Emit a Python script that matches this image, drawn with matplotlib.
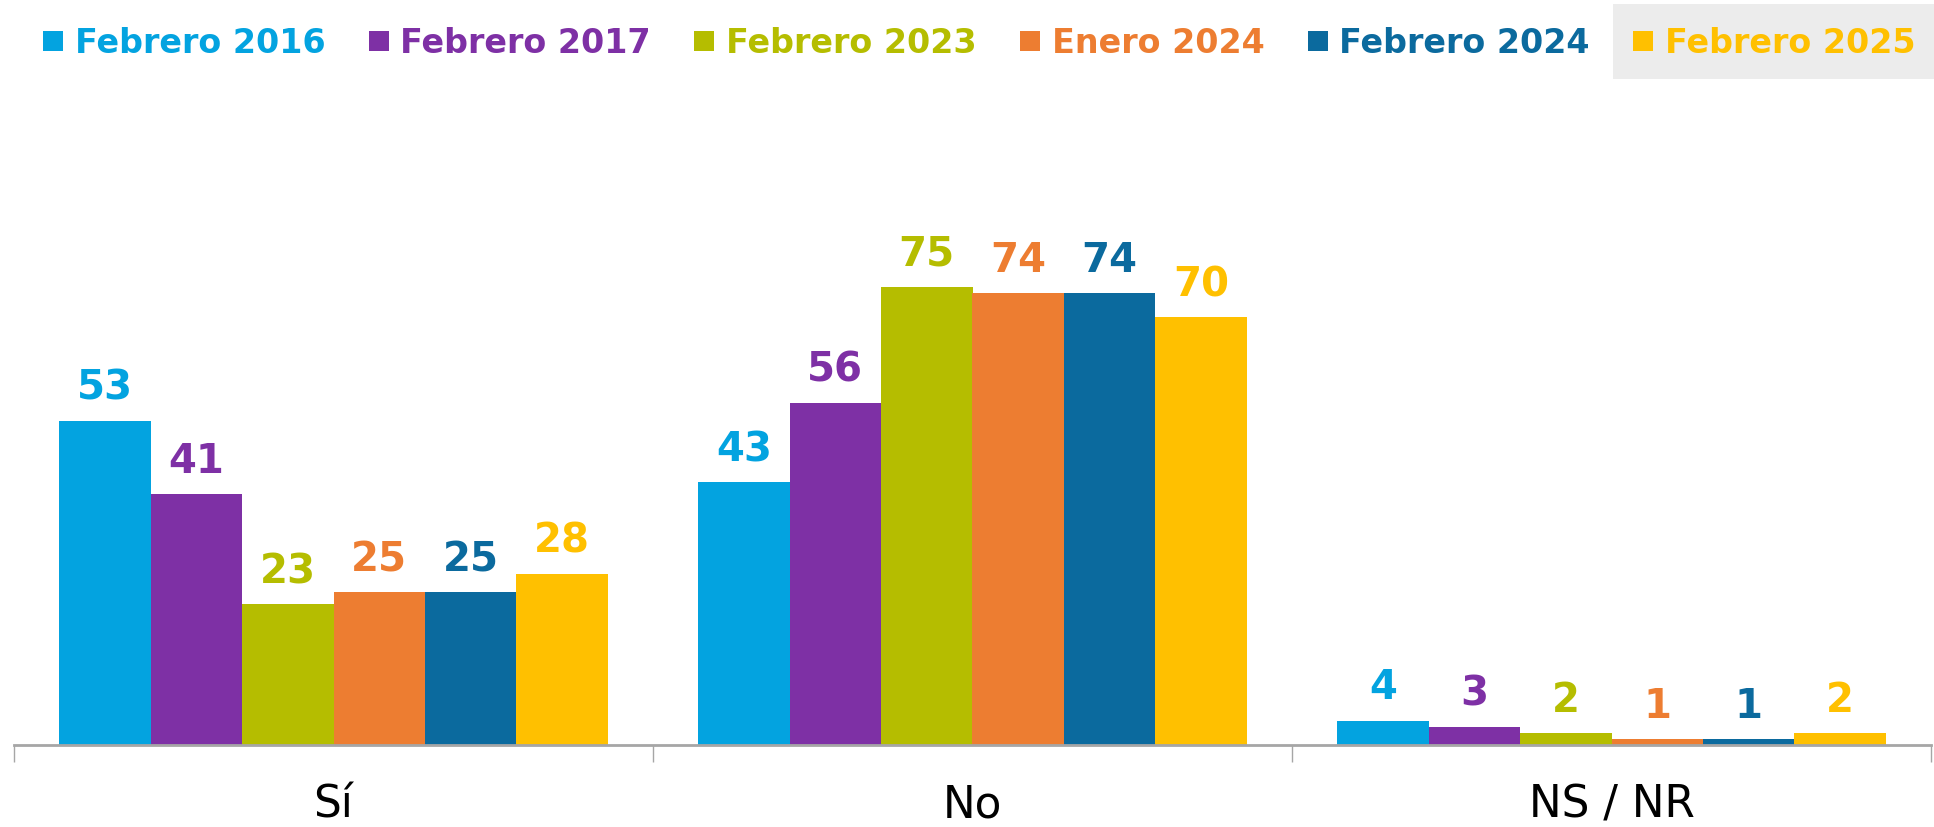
import numpy as np
import matplotlib
matplotlib.use("Agg")
from matplotlib import pyplot as plt
from matplotlib.lines import Line2D
from matplotlib.patches import Rectangle

################ data ################
categorias = ["Sí", "No", "NS / NR"]
series = ["Febrero 2016", "Febrero 2017", "Febrero 2023", "Enero 2024", "Febrero 2024", "Febrero 2025"]
feb2016 = [53, 43, 4]
feb2017 = [41, 56, 3]
feb2023 = [23, 75, 2]
ene2024 = [25, 74, 1]
feb2024 = [25, 74, 1]
feb2025 = [28, 70, 2]
valores = [feb2016, feb2017, feb2023, ene2024, feb2024, feb2025]
colores = ["#03A3E0", "#7E30A5", "#B5BD00", "#ED7D31", "#0B6A9E", "#FFC000"]

plt.rcParams['font.family'] = ['DejaVu Sans']

fig = plt.figure(figsize=(19.34, 8.28), dpi=100)
ax = fig.add_axes([14/1934, 82/828, 1917/1934, 611/828])

x = np.arange(len(categorias))
w = 0.143
n = len(series)
for i in range(n):
    pos = x + (i - (n-1)/2.0)*w
    ax.bar(pos, valores[i], width=w, color=colores[i], linewidth=0)
    for p, v in zip(pos, valores[i]):
        ax.annotate(str(v), (p, v), xytext=(0, 16), textcoords='offset points',
                    ha='center', va='baseline', fontsize=29, fontweight='bold', color=colores[i])

ax.set_xlim(-0.5, 2.5)
ax.set_ylim(0, 100)
for s in ['top', 'right', 'left']:
    ax.spines[s].set_visible(False)
ax.spines['bottom'].set_color('#A6A6A6')
ax.spines['bottom'].set_linewidth(2)
ax.set_yticks([])
# ticks on group borders, labels at group centres
ax.set_xticks([-0.5, 0.5, 1.5, 2.5])
ax.set_xticklabels([])
ax.tick_params(axis='x', which='major', length=12, width=1, color='#A6A6A6')
ax.set_xticks(x, minor=True)
ax.set_xticklabels(categorias, minor=True)
ax.tick_params(axis='x', which='minor', length=0, pad=27, labelsize=31.5, labelcolor='black')

################ legend ################
handles = [Line2D([], [], marker='s', linestyle='none', markersize=14.5,
                  markerfacecolor=c, markeredgewidth=0) for c in colores]
leg = fig.legend(handles, series, loc='center', bbox_to_anchor=(0.505, 0.947), ncol=6,
                 frameon=False, handletextpad=0.2, columnspacing=1.15, handlelength=0.9,
                 prop={'size': 24, 'weight': 'bold'})
for t, c in zip(leg.get_texts(), colores):
    t.set_color(c)

# grey highlight behind the last legend entry
fig.canvas.draw()
bb = leg.get_texts()[-1].get_window_extent().transformed(fig.transFigure.inverted())
x0 = bb.x0 - 0.027
fig.patches.append(Rectangle((x0, 1 - 80/828), 1 - x0, 75/828, transform=fig.transFigure,
                             facecolor='#ECECEC', edgecolor='none', zorder=-1))

plt.savefig('out.png', dpi=100)
